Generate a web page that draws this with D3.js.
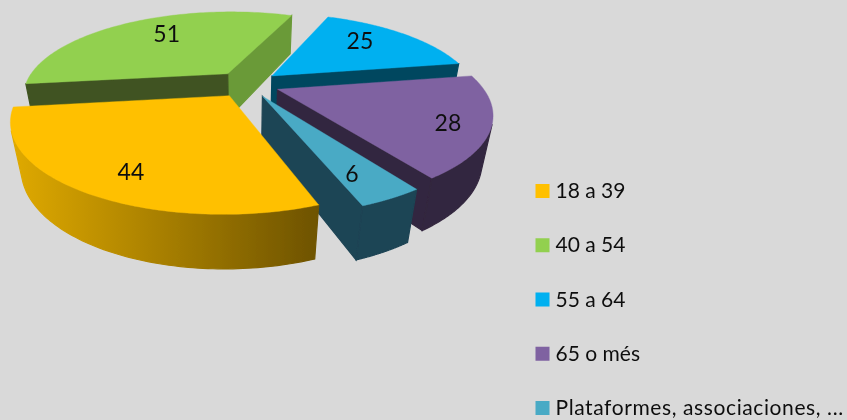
<!DOCTYPE html>
<html>
<head>
<meta charset="utf-8">
<script src="https://cdn.jsdelivr.net/npm/d3@7"></script>
<style>
html,body{margin:0;padding:0;background:#d9d9d9;overflow:hidden}
svg{display:block}
text{font-family:Lato,"Open Sans",sans-serif;fill:#111}
</style>
</head>
<body>
<svg id="c" width="847" height="420"></svg>
<script>
// Data
const categories = ["18 a 39", "40 a 54", "55 a 64", "65 o més", "Plataformes, associaciones, ..."];
const values = [44, 51, 25, 28, 6];
const colors = ["#ffc000", "#92d050", "#00b0f0", "#7f62a1", "#4aaac5"];
const sideColors = ["#8a6800", "#3f5320", "#00475f", "#33263f", "#1d4454"];
const openEdgeColors = ["#8a6800", "#6b9a38", "#00475f", "#33263f", "#1d4454"];
const labelReach = [0.797, 0.697, 0.719, 0.82, 0.79];
const labelTurn = [-4, 5.6, -5.6, 2.7, 2.1];
const paintOrder = [1, 2, 3, 4, 0];

// Perspective settings of the 3D pie
const W = 847, H = 420;
const cx = 247, cy = 84, S = 203, k = 0.404, tilt = 0.25;
const explode = 0.161, drop = 47, dropW = 0.043;
const rad = Math.PI / 180;

const svg = d3.select("#c");
const defs = svg.append("defs");
defs.append("filter").attr("id", "soft").attr("x", "-5%").attr("y", "-5%").attr("width", "110%").attr("height", "110%")
  .append("feGaussianBlur").attr("stdDeviation", 0.55);
const grad = defs.append("linearGradient").attr("id", "goldWall").attr("gradientUnits", "userSpaceOnUse")
  .attr("x1", 10).attr("x2", 318).attr("y1", 0).attr("y2", 0);
grad.append("stop").attr("offset", 0).attr("stop-color", "#e0aa00");
grad.append("stop").attr("offset", 1).attr("stop-color", "#6e5300");

svg.append("rect").attr("width", W).attr("height", H).attr("fill", "#d9d9d9");
const root = svg.append("g").attr("filter", "url(#soft)");

const pie = d3.pie().sort(null).value(d => d).startAngle(160 * rad).endAngle(520 * rad);
const arcs = pie(values);

const dir = a => [Math.sin(a), -Math.cos(a)];
const project = ([X, Y], low) => {
  const w = 1 - tilt * Y + (low ? dropW : 0);
  return [cx + S * X / w, cy + (S * k * Y + (low ? drop : 0)) / w];
};
const line = d3.line().curve(d3.curveLinearClosed);

function slicePlane(a) {
  const mid = (a.startAngle + a.endAngle) / 2;
  const m = dir(mid);
  const apex = [m[0] * explode, m[1] * explode];
  const at = (t, r = 1) => { const v = dir(t); return [apex[0] + v[0] * r, apex[1] + v[1] * r]; };
  return { apex, at, mid };
}
const facesViewer = (u, v) => d3.polygonArea([project(u), project(v), project(v, true), project(u, true)]) > 0;

paintOrder.forEach(i => {
  const a = arcs[i];
  const { apex, at } = slicePlane(a);
  const g = root.append("g");
  const steps = d3.range(0, 97).map(j => a.startAngle + (a.endAngle - a.startAngle) * j / 96);
  const rim = steps.map(t => at(t));

  const paint = (run, fill) => {
    const poly = [...run.map(p => project(p)), ...run.slice().reverse().map(p => project(p, true))];
    g.append("path").attr("d", line(poly)).attr("fill", fill).attr("stroke", fill).attr("stroke-width", 1.2);
  };
  const last = rim[rim.length - 1];
  if (facesViewer(last, apex)) paint([last, apex], openEdgeColors[i]);
  if (facesViewer(apex, rim[0])) paint([apex, rim[0]], sideColors[i]);

  // Outer wall: join the visible stretch of the rim into one shape
  let run = [];
  d3.pairs(rim).forEach(([u, v]) => {
    if (facesViewer(u, v)) {
      if (!run.length) run.push(u);
      run.push(v);
    } else if (run.length) {
      paint(run, i === 0 ? "url(#goldWall)" : sideColors[i]);
      run = [];
    }
  });
  if (run.length) paint(run, i === 0 ? "url(#goldWall)" : sideColors[i]);

  g.append("path").attr("d", line([apex, ...rim].map(p => project(p))))
    .attr("fill", colors[i]).attr("stroke", colors[i]).attr("stroke-width", 0.4);
});

// Value labels
arcs.forEach((a, i) => {
  const { at, mid } = slicePlane(a);
  const p = project(at(mid + labelTurn[i] * rad, labelReach[i]));
  root.append("text").attr("x", p[0]).attr("y", p[1]).attr("dy", "0.36em")
    .attr("text-anchor", "middle").attr("font-size", 23).text(values[i]);
});

// Legend
const rowY = d3.scalePoint().domain(categories).range([191, 408]);
const legend = root.selectAll("g.row").data(categories).join("g").attr("class", "row")
  .attr("transform", d => `translate(535.5,${rowY(d)})`);
legend.append("rect").attr("y", -7).attr("width", 14).attr("height", 14).attr("fill", (d, i) => colors[i]);
legend.append("text").attr("x", 20).attr("dy", "0.34em").attr("font-size", 21)
  .attr("letter-spacing", (d, i) => i === 4 ? 0.6 : 0).text(d => d);
</script>
</body>
</html>
